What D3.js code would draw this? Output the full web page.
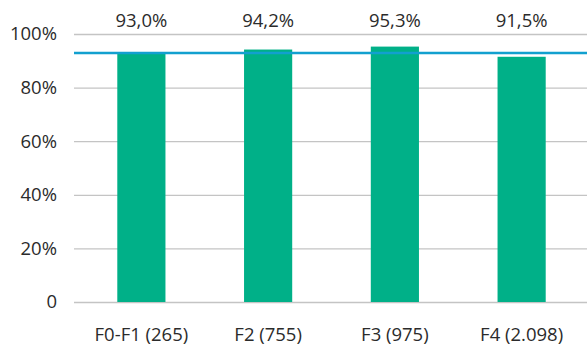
<!DOCTYPE html>
<html>
<head>
<meta charset="utf-8">
<script src="https://cdn.jsdelivr.net/npm/d3@7"></script>
<style>
  body { margin: 0; background: #fff; }
  svg text { font-family: "Open Sans", "Noto Sans", sans-serif; fill: #2b2b2b; }
</style>
</head>
<body>
<div id="chart"></div>
<script>
// Data
const categories = ["F0-F1 (265)", "F2 (755)", "F3 (975)", "F4 (2.098)"];
const values = [93.0, 94.2, 95.3, 91.5];
const targetValue = 92.9;
const yTicks = [0, 20, 40, 60, 80, 100];

const W = 587, H = 346;
const plot = { left: 74, right: 587, top: 34, bottom: 302 };

const svg = d3.select("#chart").append("svg")
    .attr("width", W)
    .attr("height", H);

const x = d3.scaleBand()
    .domain(categories)
    .range([78, 585])
    .paddingInner(0.62)
    .paddingOuter(0.31);

const y = d3.scaleLinear()
    .domain([0, 100])
    .range([plot.bottom, plot.top]);

const fmt = v => v.toFixed(1).replace(".", ",") + "%";

// gridlines
svg.append("g")
    .selectAll("line")
    .data(yTicks)
    .join("line")
    .attr("x1", plot.left)
    .attr("x2", plot.right)
    .attr("y1", d => y(d) + 0.5)
    .attr("y2", d => y(d) + 0.5)
    .attr("stroke", "#c4c4c4")
    .attr("stroke-width", 1.3);

// y tick labels
svg.append("g")
    .selectAll("text")
    .data(yTicks)
    .join("text")
    .attr("x", 57)
    .attr("y", d => y(d))
    .attr("dy", "0.35em")
    .attr("text-anchor", "end")
    .attr("font-size", "18.5px")
    .text(d => d === 0 ? "0" : d + "%");

// bars
svg.append("g")
    .selectAll("rect")
    .data(values)
    .join("rect")
    .attr("x", (d, i) => x(categories[i]))
    .attr("y", d => y(d))
    .attr("width", x.bandwidth())
    .attr("height", d => y(0) - y(d))
    .attr("fill", "#00b088");

// target line
svg.append("line")
    .attr("x1", plot.left)
    .attr("x2", plot.right)
    .attr("y1", y(targetValue))
    .attr("y2", y(targetValue))
    .attr("stroke", "#12a0cf")
    .attr("stroke-width", 2.4);

// value labels at top
svg.append("g")
    .selectAll("text")
    .data(values)
    .join("text")
    .attr("x", (d, i) => x(categories[i]) + x.bandwidth() / 2)
    .attr("y", 26.5)
    .attr("text-anchor", "middle")
    .attr("font-size", "18.5px")
    .text(d => fmt(d));

// x labels
svg.append("g")
    .selectAll("text")
    .data(categories)
    .join("text")
    .attr("x", d => x(d) + x.bandwidth() / 2)
    .attr("y", 341)
    .attr("text-anchor", "middle")
    .attr("font-size", "18.5px")
    .text(d => d);
</script>
</body>
</html>
